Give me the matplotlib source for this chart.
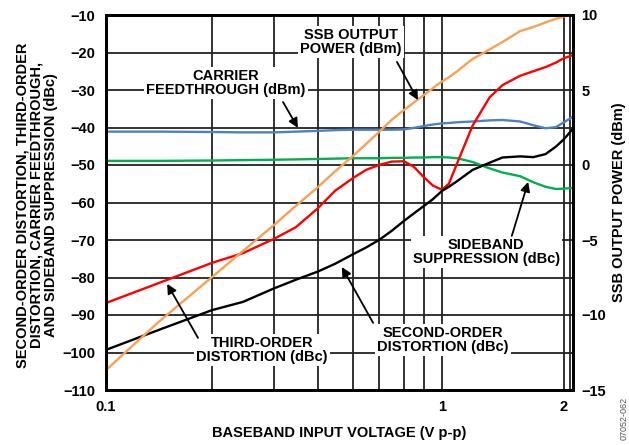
import numpy as np
import matplotlib
matplotlib.use("Agg")
import matplotlib.pyplot as plt

plt.rcParams['font.family'] = ['Liberation Sans', 'DejaVu Sans']
plt.rcParams['font.weight'] = 'bold'
plt.rcParams['font.size'] = 10.5

# baseband input voltage (V p-p)
volts = [0.1, 0.141, 0.2, 0.245, 0.3, 0.346, 0.4, 0.447, 0.5, 0.548, 0.6, 0.648,
         0.7, 0.748, 0.8, 0.894, 1.0, 1.04, 1.09, 1.19, 1.31, 1.41, 1.56, 1.68,
         1.8, 1.91, 2.0, 2.1]

# left axis, dBc / dBm
third_order = [-86.8, -81.5, -76.1, -73.5, -69.7, -66.6, -61.5, -56.8, -53.5, -51.3,
               -50.0, -49.1, -49.0, -50.5, -53.3, -55.5, -56.6, -55.0, -49.5, -39.5,
               -32.0, -28.7, -26.2, -25.0, -23.9, -22.7, -21.5, -20.7]
second_order = [-99.3, -94.0, -88.7, -86.5, -82.9, -80.6, -78.4, -76.3, -73.8, -72.0,
                -70.0, -67.6, -64.9, -62.9, -60.9, -59.1, -56.9, -55.8, -54.3, -51.3,
                -49.4, -48.0, -47.7, -47.9, -47.1, -45.1, -43.1, -40.3]
carrier = [-41.1, -41.1, -41.2, -41.3, -41.3, -41.1, -40.9, -40.7, -40.6, -40.6,
           -40.6, -40.6, -40.5, -40.1, -39.6, -39.2, -38.9, -38.8, -38.6, -38.4,
           -38.1, -38.0, -38.4, -39.4, -40.2, -39.9, -38.6, -37.1]
sideband = [-48.9, -48.9, -48.8, -48.7, -48.6, -48.5, -48.4, -48.3, -48.2, -48.2,
            -48.2, -48.1, -48.1, -48.0, -48.0, -47.9, -47.9, -48.0, -48.2, -49.2,
            -50.9, -52.0, -53.0, -54.6, -55.8, -56.4, -56.3, -56.1]
# right axis, dBm
ssb_power = [-13.67, -10.47, -7.47, -5.73, -4.0, -2.73, -1.47, -0.4, 0.6, 1.4,
             2.2, 3.0, 3.67, 4.17, 4.67, 5.13, 5.57, 5.85, 6.25, 7.07,
             7.7, 8.2, 8.93, 9.2, 9.5, 9.75, 9.9, 10.0]

x_major = [0.1, 1, 2]
x_grid = [0.2, 0.3, 0.4, 0.5, 0.6, 0.7, 0.8, 2.07]

# the original figure's x axis is not a clean log axis; map it piecewise
scale_vals = np.log10([0.1, 0.2, 0.3, 0.4, 0.5, 0.6, 0.7, 0.8, 1.0, 2.0, 2.1])
scale_pos = np.array([106, 212, 274, 318, 353, 379, 404, 424, 442, 564, 573], float)


def fwd(x):
    with np.errstate(divide='ignore', invalid='ignore'):
        lx = np.log10(np.clip(x, 1e-6, None))
    return np.interp(lx, scale_vals, scale_pos)


def inv(p):
    return 10 ** np.interp(p, scale_pos, scale_vals)


fig = plt.figure(figsize=(6.29, 4.45), dpi=100)
ax = fig.add_axes([106 / 629, 1 - 390 / 445, 467 / 629, 375 / 445])
ax.set_xscale('function', functions=(fwd, inv))
ax.set_xlim(0.1, 2.1)
ax.set_ylim(-110, -10)
ax.set_yticks(np.arange(-110, 0, 10))
ax.set_xticks(x_major)
ax.set_xticklabels(['0.1', '1', '2'])
ax.set_xticks(x_grid, minor=True)
ax.xaxis.set_minor_formatter(plt.NullFormatter())
ax.grid(True, which='both', color='#222222', lw=1.3)
ax.set_axisbelow(True)
ax.tick_params(which='both', length=0)
ax.tick_params(axis='y', pad=8)
ax.tick_params(axis='x', pad=7)
for s in ax.spines.values():
    s.set_linewidth(2)

lw = 1.7
ax.plot(volts, carrier, color='#4F81BD', lw=lw)
ax.plot(volts, sideband, color='#00B050', lw=lw)
ax.plot(volts, third_order, color='#FF0000', lw=lw)
ax.plot(volts, second_order, color='black', lw=lw)

ax2 = ax.twinx()
ax2.set_ylim(-15, 10)
ax2.set_yticks(np.arange(-15, 11, 5))
ax2.tick_params(length=0, pad=6)
ax2.plot(volts, ssb_power, color='#F8A055', lw=lw)
for s in ax2.spines.values():
    s.set_linewidth(2)

box = dict(facecolor='white', edgecolor='none', pad=1.5)
labels = [
    ('SSB OUTPUT\nPOWER (dBm)', (0.525, 0.928), (0.623, 0.875), (0.668, 0.773)),
    ('CARRIER\nFEEDTHROUGH (dBm)', (0.257, 0.819), (0.379, 0.768), (0.411, 0.699)),
    ('THIRD-ORDER\nDISTORTION (dBc)', (0.334, 0.107), (0.197, 0.139), (0.131, 0.283)),
    ('SECOND-ORDER\nDISTORTION (dBc)', (0.722, 0.133), (0.572, 0.179), (0.505, 0.328)),
    ('SIDEBAND\nSUPPRESSION (dBc)', (0.814, 0.368), (0.869, 0.411), (0.904, 0.555)),
]
for txt, pos, start, tip in labels:
    ax2.text(pos[0], pos[1], txt, transform=ax.transAxes, ha='center', va='center',
             linespacing=1.05, bbox=box, zorder=5)
    ax2.annotate('', xy=tip, xytext=start, xycoords=ax.transAxes, textcoords=ax.transAxes,
                 arrowprops=dict(arrowstyle='-|>', color='black', lw=1.3,
                                 mutation_scale=14, shrinkA=0, shrinkB=0), zorder=6)

fig.text(37 / 629, 1 - 205 / 445,
         'SECOND-ORDER DISTORTION, THIRD-ORDER\nDISTORTION, CARRIER FEEDTHROUGH,\nAND SIDEBAND SUPPRESSION (dBc)',
         rotation=90, ha='center', va='center', linespacing=1.0, multialignment='center')
fig.text(619 / 629, 1 - 202 / 445, 'SSB OUTPUT POWER (dBm)', rotation=90,
         ha='center', va='center')
fig.text(339 / 629, 1 - 433 / 445, 'BASEBAND INPUT VOLTAGE (V p-p)', ha='center', va='center')
fig.text(624 / 629, 1 - 418 / 445, '07052-062', rotation=90, ha='center', va='center',
         fontsize=6.5, fontweight='normal', color='#555555')

fig.savefig('out.png', dpi=100)
